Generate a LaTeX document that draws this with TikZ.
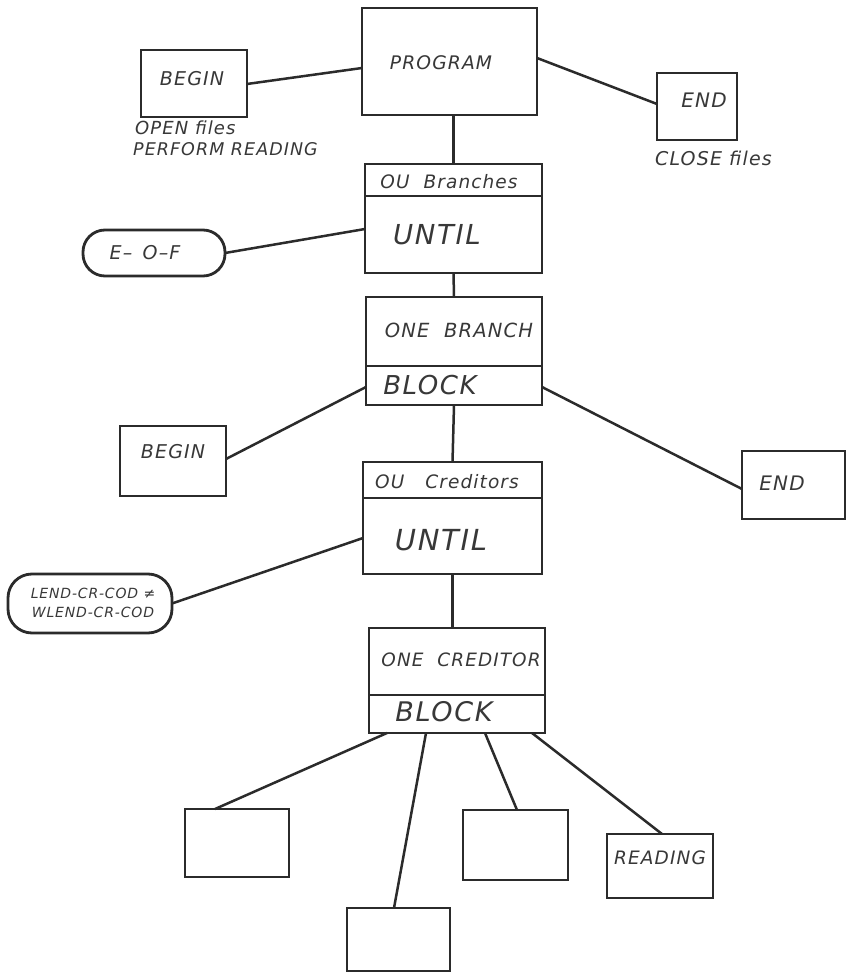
\documentclass[tikz,border=0pt]{standalone}
\usepackage{fontspec}
\usetikzlibrary{calc}
\newfontfamily\lett{DejaVu Sans}[LetterSpace=6]
\newcommand\lsize[1]{\lett\itshape\fontsize{#1}{#1}\selectfont}
\definecolor{ink}{HTML}{2B2B2B}
\definecolor{inkt}{HTML}{383838}
\begin{document}
\begin{tikzpicture}[x=1pt,y=-1pt,
  box/.style={draw=ink,line width=2.8pt,inner sep=0pt,outer sep=0pt},
  pill/.style={box,rounded corners=22pt},
  wire/.style={draw=ink,line width=2.5pt},
  lbl/.style={inner sep=0pt,text=inkt}]
\useasboundingbox[fill=white] (0,0) rectangle (846,973);

% top level: program with its begin and end parts
\node[box,minimum width=175pt,minimum height=107pt] (prog)   at (449.5,61.5) {};
\node[box,minimum width=106pt,minimum height=67pt]  (begin1) at (194,83.5) {};
\node[box,minimum width=80pt, minimum height=67pt]  (end1)   at (697,106.5) {};

% iteration over branches
\node[box,minimum width=177pt,minimum height=32pt]  (oubh) at (453.5,180) {};
\node[box,minimum width=177pt,minimum height=77pt]  (oubb) at (453.5,234.5) {};
\node[pill,minimum width=142pt,minimum height=46pt] (eof)  at (154,253) {};

% one branch block
\node[box,minimum width=176pt,minimum height=69pt]  (obh)    at (454,331.5) {};
\node[box,minimum width=176pt,minimum height=39pt]  (obb)    at (454,385.5) {};
\node[box,minimum width=106pt,minimum height=70pt]  (begin2) at (173,461) {};
\node[box,minimum width=103pt,minimum height=68pt]  (end2)   at (793.5,485) {};

% iteration over creditors
\node[box,minimum width=179pt,minimum height=36pt]  (ocrh) at (452.5,480) {};
\node[box,minimum width=179pt,minimum height=76pt]  (ocrb) at (452.5,536) {};
\node[pill,rounded corners=24pt,minimum width=164pt,minimum height=59pt] (lend) at (90,603.5) {};

% one creditor block and its parts
\node[box,minimum width=176pt,minimum height=67pt]  (onch) at (457,661.5) {};
\node[box,minimum width=176pt,minimum height=38pt]  (oncb) at (457,714) {};
\node[box,minimum width=104pt,minimum height=68pt]  (ch1)  at (237,843) {};
\node[box,minimum width=103pt,minimum height=63pt]  (ch2)  at (398.5,939.5) {};
\node[box,minimum width=105pt,minimum height=70pt]  (ch3)  at (515.5,845) {};
\node[box,minimum width=106pt,minimum height=64pt]  (ch4)  at (660,866) {};

% texts
\node[lbl,font=\lsize{18.7}] (tprog) at (441,63) {PROGRAM};
\node[lbl,font=\lsize{19}] (tbeg1) at (192,79) {BEGIN};
\node[lbl,font=\lsize{18}, anchor=west] (topen) at (135,128) {OPEN files};
\node[lbl,font=\lsize{17.5},anchor=west] (tperf) at (133,149) {PERFORM READING};
\node[lbl,font=\lsize{20}] (tend1) at (704,100) {END};
\node[lbl,font=\lsize{19},anchor=west] (tclose) at (655,158) {CLOSE files};
\node[lbl,font=\lsize{18.5}] (toub) at (449,182) {OU\ \ Branches};
\node[lbl,font=\lsize{27.5}] (tunt1) at (437,235) {UNTIL};
\node[lbl,font=\lsize{19}] (teof) at (145,253) {E–\ \,O–F};
\node[lbl,font=\lsize{19.5}] (tob) at (459,330) {ONE\ \ BRANCH};
\node[lbl,font=\lsize{26}] (tblk1) at (430,385) {BLOCK};
\node[lbl,font=\lsize{19}] (tbeg2) at (173,452) {BEGIN};
\node[lbl,font=\lsize{20}] (tend2) at (782,483) {END};
\node[lbl,font=\lsize{18.5}] (tocr) at (447,482) {OU\ \ \ Creditors};
\node[lbl,font=\lsize{29}] (tunt2) at (441,540) {UNTIL};
\node[lbl,font=\lsize{14},align=center] (tlend) at (93,603) {LEND-CR-COD ≠\\[5pt]WLEND-CR-COD};
\node[lbl,font=\lsize{18.4}] (tonc) at (461,660) {ONE\ \ CREDITOR};
\node[lbl,font=\lsize{27}] (tblk2) at (444,712) {BLOCK};
\node[lbl,font=\lsize{18.5}] (tread) at (660,858) {READING};

% connectors
\draw[wire] ($(begin1.north east)+(0,34)$) -- ($(prog.north west)+(0,60)$);
\draw[wire] ($(prog.north east)+(0,50)$) -- ($(end1.north west)+(0,31)$);
\draw[wire] (oubh.north |- prog.south) -- (oubh.north);
\draw[wire] (eof.east) -- ($(oubb.north west)+(0,33)$);
\draw[wire] (oubb.south) -- (obh.north);
\draw[wire] ($(obb.north west)+(0,21)$) -- ($(begin2.north east)+(0,33)$);
\draw[wire] ($(obb.north east)+(0,21)$) -- ($(end2.north west)+(0,38)$);
\draw[wire] (obb.south) -- (ocrh.north);
\draw[wire] (lend.east) -- ($(ocrb.north west)+(0,40)$);
\draw[wire] (ocrb.south) -- (ocrb.south |- onch.north);
\draw[wire] ($(oncb.south west)+(18,0)$)  -- ($(ch1.north west)+(30,0)$);
\draw[wire] ($(oncb.south west)+(57,0)$)  -- ($(ch2.north west)+(47,0)$);
\draw[wire] ($(oncb.south west)+(116,0)$) -- ($(ch3.north west)+(54,0)$);
\draw[wire] ($(oncb.south west)+(163,0)$) -- ($(ch4.north west)+(55,0)$);
\end{tikzpicture}
\end{document}
